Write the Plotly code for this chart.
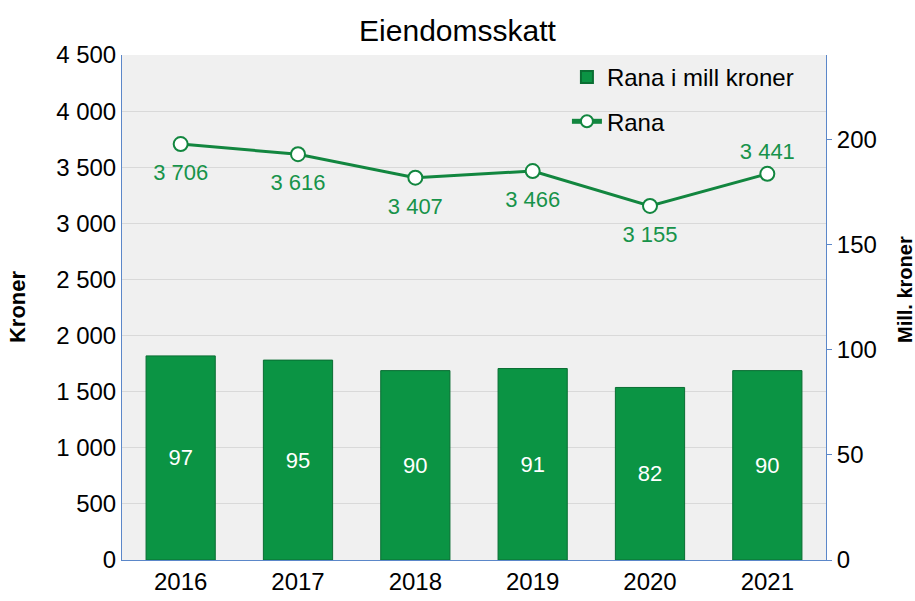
import plotly.graph_objects as go

# Property tax data for Rana
years = ["2016", "2017", "2018", "2019", "2020", "2021"]
mill_kroner = [97, 95, 90, 91, 82, 90]
kroner_per_capita = [3706, 3616, 3407, 3466, 3155, 3441]
label_positions = ["bottom center"] * 5 + ["top center"]
# invisible spacer sizes that push each value label away from its point
label_spacer = [30, 30, 30, 30, 30, 14]

GREEN = "#0b9444"
LINE_GREEN = "#12863f"
TEXT_GREEN = "#17934a"
AXIS_BLUE = "#5b87c9"
FONT = "Liberation Sans, Arial, sans-serif"


def fmt(v):
    return f"{v:,}".replace(",", " ")


fig = go.Figure()

fig.add_trace(go.Bar(
    x=years,
    y=mill_kroner,
    yaxis="y2",
    name="Rana i mill kroner",
    legendgroup="bars",
    marker=dict(color=GREEN, line=dict(color="#0a6e33", width=1)),
    text=[str(v) for v in mill_kroner],
    textposition="inside",
    insidetextanchor="middle",
    textfont=dict(color="white", size=22, family=FONT),
    width=0.59,
))

fig.add_trace(go.Scatter(
    x=years,
    y=kroner_per_capita,
    yaxis="y",
    name="Rana",
    legendgroup="line",
    mode="lines+markers",
    line=dict(color=LINE_GREEN, width=3),
    marker=dict(symbol="circle", size=14, color="white",
                line=dict(color=LINE_GREEN, width=2)),
))

# value labels for the line
fig.add_trace(go.Scatter(
    x=years,
    y=kroner_per_capita,
    yaxis="y",
    mode="markers+text",
    marker=dict(size=label_spacer, opacity=0),
    text=[fmt(v) for v in kroner_per_capita],
    textposition=label_positions,
    textfont=dict(color=TEXT_GREEN, size=22, family=FONT),
    showlegend=False,
    hoverinfo="skip",
))

fig.update_layout(
    width=915,
    height=601,
    margin=dict(l=122, r=89, t=55, b=41),
    paper_bgcolor="white",
    plot_bgcolor="#f0f0f0",
    separators=", ",
    font=dict(family=FONT, size=24, color="black"),
    title=dict(text="Eiendomsskatt", x=0.5, xanchor="center", y=0.95, yanchor="middle",
               font=dict(size=30, color="black", family=FONT)),
    showlegend=True,
    legend=dict(x=0.632, y=1.0, xanchor="left", yanchor="top",
                bgcolor="rgba(0,0,0,0)", font=dict(size=24, family=FONT),
                traceorder="grouped", tracegroupgap=10, itemsizing="constant"),
    xaxis=dict(
        type="category",
        showgrid=False,
        showline=True, linecolor=AXIS_BLUE, linewidth=1,
        ticks="", tickfont=dict(size=24), automargin=False,
    ),
    yaxis=dict(
        range=[0, 4500],
        dtick=500,
        tickformat=",d",
        showgrid=True, gridcolor="#d9d9d9", gridwidth=1,
        showline=True, linecolor=AXIS_BLUE, linewidth=1,
        ticks="", zeroline=False,
        tickfont=dict(size=24), automargin=False,
    ),
    yaxis2=dict(
        range=[0, 240],
        dtick=50,
        overlaying="y",
        side="right",
        showgrid=False,
        showline=True, linecolor=AXIS_BLUE, linewidth=1,
        ticks="outside", ticklen=5, tickcolor=AXIS_BLUE,
        zeroline=False,
        tickfont=dict(size=24), automargin=False,
    ),
    annotations=[
        dict(text="<b>Kroner</b>", xref="paper", yref="paper",
             x=-0.1477, y=0.501, textangle=-90, showarrow=False,
             xanchor="center", yanchor="middle",
             font=dict(size=22, color="black", family=FONT)),
        dict(text="<b>Mill. kroner</b>", xref="paper", yref="paper",
             x=1.1125, y=0.535, textangle=-90, showarrow=False,
             xanchor="center", yanchor="middle",
             font=dict(size=20, color="black", family=FONT)),
    ],
)

fig.write_html("out.html")
